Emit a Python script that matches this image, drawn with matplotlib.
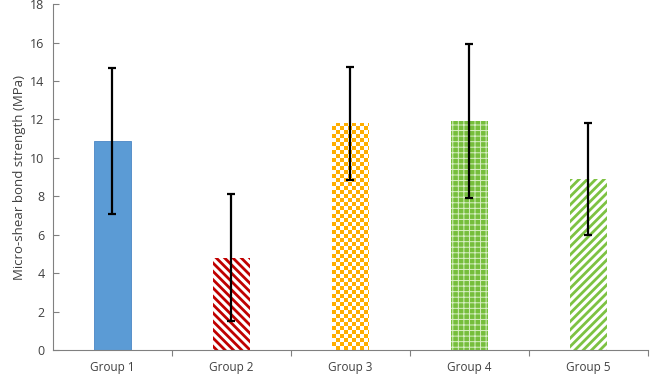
import numpy as np
import matplotlib as mpl
import matplotlib.pyplot as plt

mpl.use('Agg')

groups = ["Group 1", "Group 2", "Group 3", "Group 4", "Group 5"]
means = [10.9, 4.8, 11.8, 11.9, 8.9]
errs = [3.8, 3.3, 2.95, 4.0, 2.9]

plt.rcParams['font.family'] = ['Open Sans', 'DejaVu Sans']

fig = plt.figure(figsize=(6.5, 3.75), dpi=100)
ax = fig.add_axes([0.0815, 0.0667, 0.915, 0.9223])

x = np.arange(len(groups))
w = 0.31

# group 1 solid, groups 2 and 5 striped
plt.rcParams['hatch.linewidth'] = 2.0
b1 = ax.bar(x[0], means[0], w, color='#5B9BD5', edgecolor='#4A86C5', linewidth=0.6)
b2 = ax.bar(x[1], means[1], w, facecolor='white', edgecolor='#C00000', hatch='\\\\\\\\', linewidth=0)
b5 = ax.bar(x[4], means[4], w, facecolor='white', edgecolor='#7DC242', hatch='////', linewidth=0)
plt.rcParams['hatch.linewidth'] = 0.7
b4 = ax.bar(x[3], means[3], w, facecolor='#76BE3C', edgecolor='#D8EFC4', hatch='+++', linewidth=0)

# group 3: orange checkerboard, clipped to the bar
b3 = ax.bar(x[2], means[2], w, facecolor='white', linewidth=0)
r = b3[0]
n = 120
chk = (np.indices((n, n)).sum(axis=0) % 2).astype(float)
cmap = mpl.colors.ListedColormap(['white', '#FFAE00'])
x0, y0 = r.get_x(), r.get_y()
sq_x = 4 / (0.915 * 650) * 5.0      # ~4 px in data units
sq_y = 4 / (0.9223 * 375) * 18.0
img = ax.imshow(chk, cmap=cmap, extent=[x0, x0 + n * sq_x, y0, y0 + n * sq_y],
                origin='lower', interpolation='nearest', aspect='auto', zorder=1)
img.set_clip_path(r)

ax.errorbar(x, means, yerr=errs, fmt='none', ecolor='black', elinewidth=1.6,
            capsize=3.2, capthick=1.6, zorder=5)

ax.set_xlim(-0.5, 4.5)
ax.set_ylim(0, 18)
ax.set_yticks(np.arange(0, 19, 2))
ax.set_xticks(x)
ax.set_xticklabels(groups)
ax.set_xticks(np.arange(0.5, 5, 1), minor=True)
ax.tick_params(axis='x', which='major', length=0, labelsize=8.5, pad=8, colors='#404040')
ax.tick_params(axis='x', which='minor', length=4, width=0.8, direction='out', color='#808080')
ax.tick_params(axis='y', length=4, width=0.8, direction='in', color='#808080',
               labelsize=9, colors='#404040', pad=6)
for s in ['top', 'right']:
    ax.spines[s].set_visible(False)
ax.spines['left'].set_color('#808080')
ax.spines['bottom'].set_color('#808080')
ax.spines['left'].set_linewidth(0.8)
ax.spines['bottom'].set_linewidth(0.8)
ax.set_ylabel('Micro-shear bond strength (MPa)', fontsize=9.5, color='#404040', labelpad=3)

fig.savefig('out.png', dpi=100)
